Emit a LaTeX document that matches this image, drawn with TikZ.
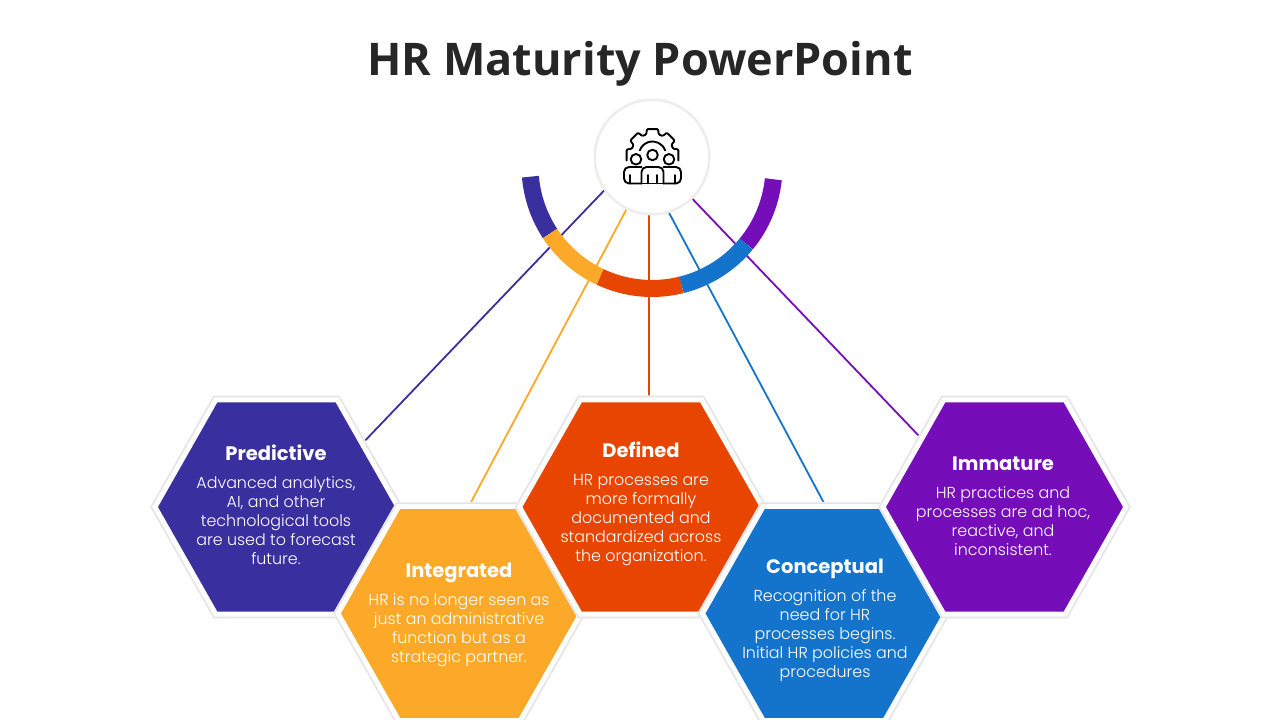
\documentclass[tikz,border=0pt]{standalone}
\usepackage{fontspec}
\usepackage{xcolor}
\usetikzlibrary{shapes.geometric, positioning, backgrounds}
\setmainfont{Poppins}
\newfontfamily\titlefont{Open Sans}
\newfontfamily\hexfont{Poppins Light}
\definecolor{hrIndigo}{RGB}{58,47,158}
\definecolor{hrOrange}{RGB}{252,168,40}
\definecolor{hrRed}{RGB}{232,69,0}
\definecolor{hrBlue}{RGB}{20,116,204}
\definecolor{hrPurple}{RGB}{117,13,184}
\definecolor{hrInk}{RGB}{38,38,38}

\begin{document}
\begin{tikzpicture}[
    x=1pt, y=1pt,
    hexagon/.style={regular polygon, regular polygon sides=6, minimum size=243pt, inner sep=0pt, outer sep=0pt, transform shape, yscale=1.017, draw=white, line width=5pt, preaction={draw=black!6, line width=9pt}, preaction={draw=black!12, line width=7pt}},
    hexhead/.style={font=\fontsize{19.5}{23}\selectfont\bfseries, text=white, inner sep=0pt, align=center, text height=15pt, text depth=4pt},
    hexbody/.style={font=\fontsize{15.9}{19}\selectfont\hexfont, text=white, inner sep=0pt, align=center},
    spoke/.style={line width=1.8pt},
    ringseg/.style={line width=17pt},
    iconline/.style={draw=black, line width=1.9pt, line join=round, line cap=round}
]
\useasboundingbox (0,0) rectangle (1280,720);
\node[font=\fontsize{45}{52}\selectfont\bfseries\titlefont, text=hrInk, inner sep=0pt] (title) at (640,656) {HR Maturity PowerPoint};

\coordinate (ringc) at (652,553.5);
\node[circle, fill=white, draw=black!7, line width=2.5pt, minimum size=114.5pt, inner sep=0pt] (hub) at (652,563) {};

\node[hexagon, fill=hrIndigo] (predictive) at (276.5,213) {};
\node[hexagon, fill=hrOrange] (integrated) at (459.5,106.5) {};
\node[hexagon, fill=hrRed] (defined) at (641,213) {};
\node[hexagon, fill=hrBlue] (conceptual) at (824,106.5) {};
\node[hexagon, fill=hrPurple] (immature) at (1004.5,213) {};

\begin{scope}[on background layer]
\draw[spoke, hrIndigo] (hub.215) -- (predictive.36);
\draw[spoke, hrOrange] (hub.244) -- (integrated.85.4);
\draw[spoke, hrRed]    (hub.267) -- (hub.267 |- defined.north);
\draw[spoke, hrBlue]   (hub.287) -- (conceptual.89);
\draw[spoke, hrPurple] (hub.314) -- (immature.141);
\draw[ringseg, hrIndigo] ([shift={(184.8:122pt)}]ringc) arc[start angle=184.8, end angle=213.3, radius=122pt];
\draw[ringseg, hrPurple] ([shift={(320.6:122pt)}]ringc) arc[start angle=320.6, end angle=354, radius=122pt];
\draw[ringseg, hrOrange] ([shift={(213.3:122pt)}]ringc) arc[start angle=213.3, end angle=244.9, radius=122pt];
\draw[ringseg, hrRed]    ([shift={(244.9:122pt)}]ringc) arc[start angle=244.9, end angle=284, radius=122pt];
\draw[ringseg, hrBlue]   ([shift={(284:122pt)}]ringc) arc[start angle=284, end angle=320.6, radius=122pt];
\end{scope}

% gear and three people
\begin{scope}[shift={(652.5,565)}]
\draw[iconline, rounded corners=1pt] (-12:26.5) -- (12:26.5) -- (17:21.5) -- (28:21.5) -- (33:26.5) -- (57:26.5) -- (62:21.5) -- (73:21.5) -- (78:26.5) -- (102:26.5) -- (107:21.5) -- (118:21.5) -- (123:26.5) -- (147:26.5) -- (152:21.5) -- (163:21.5) -- (168:26.5) -- (192:26.5);
\draw[iconline] (20:13.5) arc[start angle=20, end angle=160, radius=13.5pt];
\draw[iconline] (0,0) circle[radius=5.3pt];
\draw[iconline] (-16.5,-4.3) circle[radius=5.3pt];
\draw[iconline] (16.5,-4.3) circle[radius=5.3pt];
\draw[iconline, rounded corners=5pt] (-11,-28.5) -- (-11,-12) -- (11,-12) -- (11,-28.5);
\draw[iconline] (-11,-28.5) -- (-6,-28.5) (-3,-28.5) -- (3,-28.5) (6,-28.5) -- (11,-28.5);
\draw[iconline] (-4.5,-20) -- (-4.5,-28.5) (4.5,-20) -- (4.5,-28.5);
\draw[iconline, rounded corners=5pt] (-11,-12) -- (-28.5,-12) -- (-28.5,-28.5) -- (-11,-28.5);
\draw[iconline, rounded corners=5pt] (11,-12) -- (28.5,-12) -- (28.5,-28.5) -- (11,-28.5);
\draw[iconline] (-22.5,-20) -- (-22.5,-28.5) (22.5,-20) -- (22.5,-28.5);
\end{scope}

\node[hexhead] (predictiveHead) at (276,264.5) {Predictive};
\node[hexbody, below=11.5pt of predictiveHead] (predictiveBody) {Advanced analytics,\\AI, and other\\technological tools\\are used to forecast\\future.};
\node[hexhead] (integratedHead) at (459,147.5) {Integrated};
\node[hexbody, below=11.5pt of integratedHead] (integratedBody) {HR is no longer seen as\\just an administrative\\function but as a\\strategic partner.};
\node[hexhead] (definedHead) at (641,267.5) {Defined};
\node[hexbody, below=11.5pt of definedHead] (definedBody) {HR processes are\\more formally\\documented and\\standardized across\\the organization.};
\node[hexhead] (conceptualHead) at (825,151.5) {Conceptual};
\node[hexbody, below=11.5pt of conceptualHead] (conceptualBody) {Recognition of the\\need for HR\\processes begins.\\Initial HR policies and\\procedures};
\node[hexhead] (immatureHead) at (1003,254.5) {Immature};
\node[hexbody, below=11.5pt of immatureHead] (immatureBody) {HR practices and\\processes are ad hoc,\\reactive, and\\inconsistent.};
\end{tikzpicture}
\end{document}
